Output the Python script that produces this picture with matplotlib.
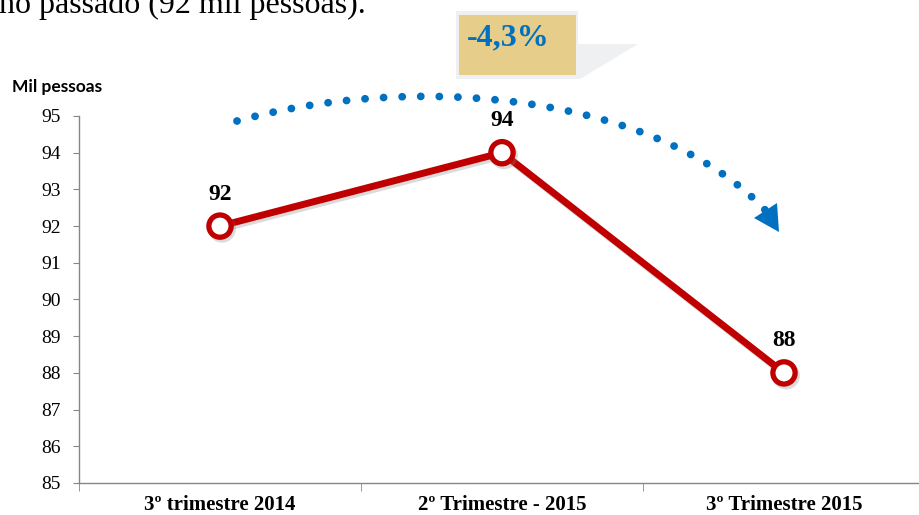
import matplotlib
matplotlib.use('Agg')
import matplotlib.pyplot as plt
from matplotlib.path import Path
from matplotlib.patches import PathPatch, Polygon, Rectangle
import matplotlib.patheffects as pe

# dados
categorias = ['3º trimestre 2014', '2º Trimestre - 2015', '3º Trimestre 2015']
valores = [92, 94, 88]
y_ticks = [85, 86, 87, 88, 89, 90, 91, 92, 93, 94, 95]
variacao = '-4,3%'
titulo_y = 'Mil pessoas'
texto_topo = 'no passado (92 mil pessoas).'

W, H = 920, 515
fig = plt.figure(figsize=(W / 100, H / 100), dpi=100)


def fx(px):
    return px / W


def fy(py):
    return 1 - py / H


ax = fig.add_axes([fx(79), fy(483), 846 / W, 367 / H])

x = list(range(len(categorias)))
ax.plot(x, valores, color='#C00000', lw=5, marker='o', markersize=16,
        markerfacecolor='white', markeredgecolor='#C00000', markeredgewidth=3.8,
        zorder=3,
        path_effects=[pe.SimpleLineShadow(offset=(1.5, -2), shadow_color='#888888', alpha=0.3),
                      pe.Normal()])

for xi, v in zip(x, valores):
    ax.annotate(str(v), (xi, v), xytext=(0, 23), textcoords='offset points',
                ha='center', va='center', fontsize=17, fontweight='bold',
                family='Liberation Serif')

ax.set_xlim(-0.5, 2.5)
ax.set_ylim(85, 95)
ax.set_yticks(y_ticks)
ax.set_yticklabels([str(t) for t in y_ticks], family='Liberation Serif', fontsize=14)
ax.set_xticks(x)
ax.set_xticklabels(categorias, family='Liberation Serif', fontsize=15, fontweight='bold')
ax.set_xticks([-0.5, 0.5, 1.5, 2.5], minor=True)
ax.tick_params(axis='x', which='major', length=0, pad=9)
ax.tick_params(axis='x', which='minor', length=6, color='#868686', direction='out')
ax.tick_params(axis='y', length=4, color='#868686', direction='out', pad=9)
for s in ['top', 'right']:
    ax.spines[s].set_visible(False)
for s in ['left', 'bottom']:
    ax.spines[s].set_color('#868686')
    ax.spines[s].set_linewidth(1)

fig.text(fx(57), fy(87), titulo_y, ha='center', va='center', fontsize=12.5,
         fontweight='bold', family='Lato')

# texto cortado no topo
fig.text(fx(-1), fy(12.5), texto_topo, ha='left', va='baseline', fontsize=23,
         family='Liberation Serif')

# caixa de destaque
callout = Polygon([(fx(456), fy(11)), (fx(578), fy(11)), (fx(578), fy(44)),
                   (fx(638), fy(44)), (fx(580), fy(79)), (fx(456), fy(79))],
                  closed=True, transform=fig.transFigure, facecolor='#EEF0F1',
                  edgecolor='none')
fig.patches.append(callout)
caixa = Rectangle((fx(459), fy(75)), (576 - 459) / W, (75 - 15) / H,
                  transform=fig.transFigure, facecolor='#E6CE8A', edgecolor='none')
fig.patches.append(caixa)
fig.text(fx(467), fy(38), variacao, ha='left', va='center', fontsize=23,
         fontweight='bold', color='#0070C0', family='Liberation Serif')

# seta pontilhada
pts = [(237, 121), (417, 71), (659, 95), (767, 212)]
curva = Path([(fx(a), fy(b)) for a, b in pts],
             [Path.MOVETO, Path.CURVE4, Path.CURVE4, Path.CURVE4])
arco = PathPatch(curva, transform=fig.transFigure, facecolor='none',
                 edgecolor='#0070C0', lw=5.6, linestyle=(0, (0.01, 2.38)),
                 capstyle='round')
fig.patches.append(arco)
ponta = Polygon([(fx(779), fy(232)), (fx(754), fy(218)), (fx(777), fy(203))],
                closed=True, transform=fig.transFigure, facecolor='#0070C0',
                edgecolor='none')
fig.patches.append(ponta)

fig.savefig('out.png', dpi=100)
